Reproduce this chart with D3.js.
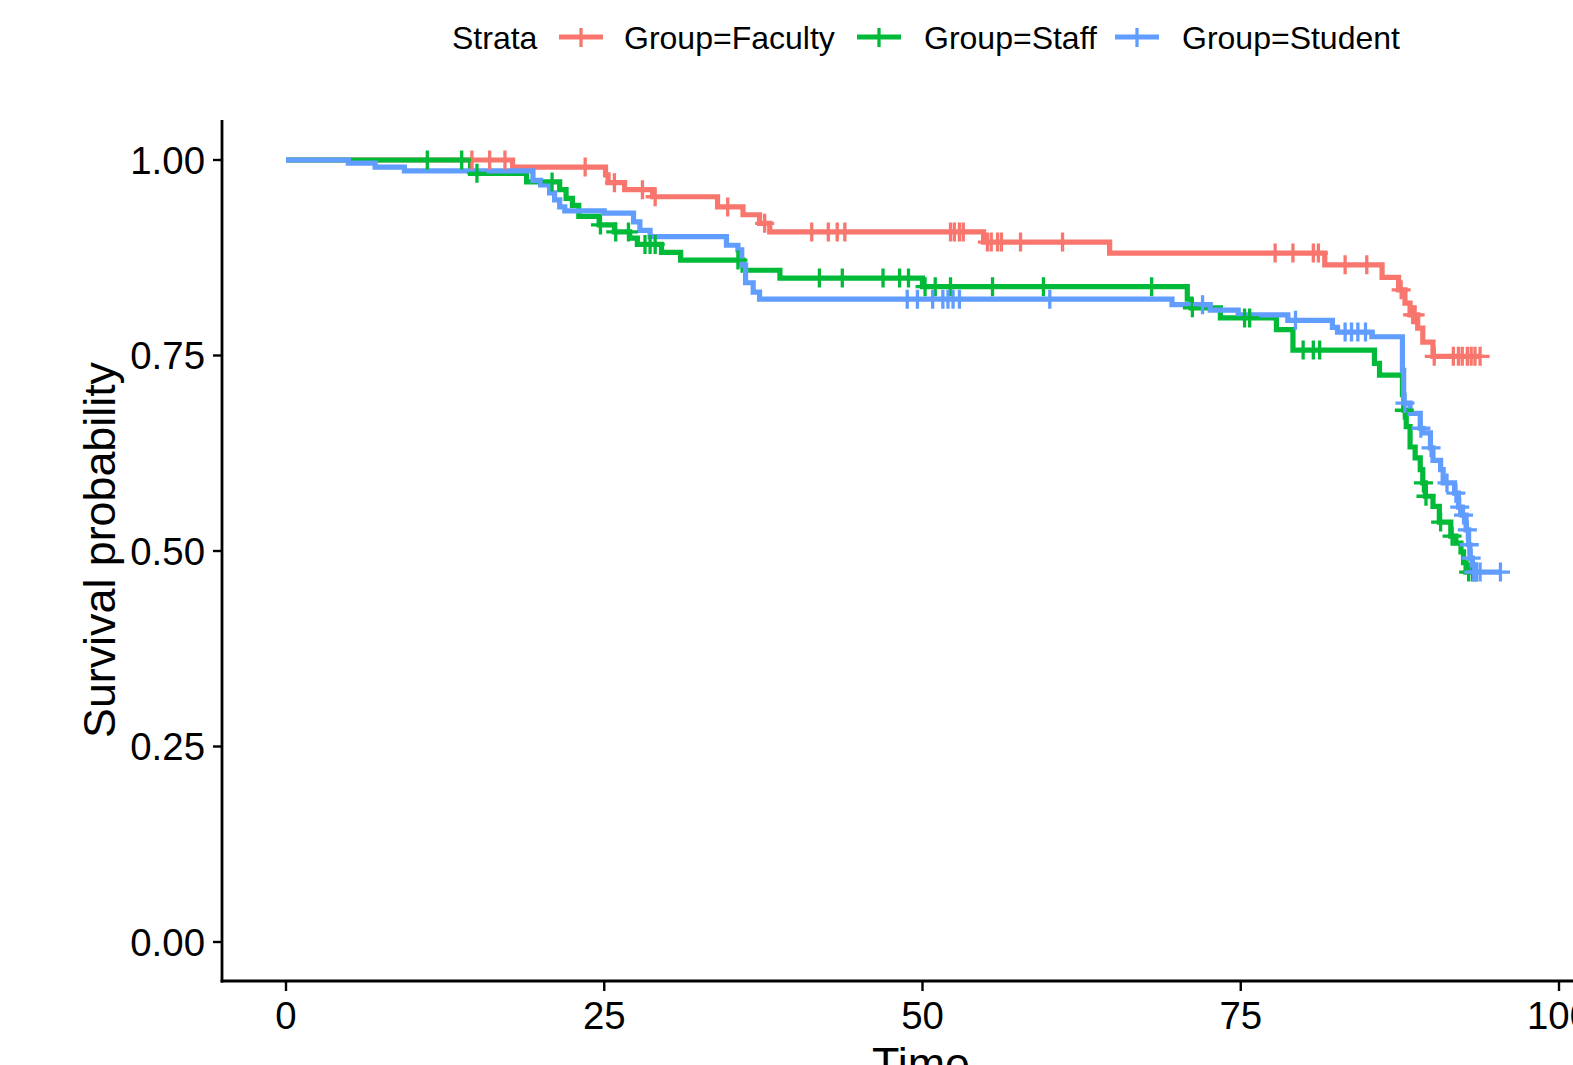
<!DOCTYPE html>
<html>
<head>
<meta charset="utf-8">
<script src="https://cdn.jsdelivr.net/npm/d3@7"></script>
<style>
  body { margin: 0; background: #fff; }
  text { font-family: "Liberation Sans", Arial, sans-serif; fill: #000; }
</style>
</head>
<body>
<div id="chart"></div>
<script>
var width = 1573;
var height = 1065;

var timeTicks = [0, 25, 50, 75, 100];
var survTicks = [0, 0.25, 0.5, 0.75, 1];
var groups = ["Group=Faculty", "Group=Staff", "Group=Student"];
var colors = ["#F8766D", "#00BA38", "#619CFF"];

// Kaplan-Meier steps: event time -> survival after it
var facultyTimes = [17.8, 25.1, 25.3, 26.6, 28.8, 33.9, 35.9, 37.2, 38.0, 54.8, 64.7, 81.6, 86.1, 87.4, 87.9, 88.3, 88.9, 89.3, 90.1];
var facultySurv = [0.991, 0.981, 0.971, 0.962, 0.953, 0.940, 0.930, 0.919, 0.908, 0.895, 0.881, 0.866, 0.850, 0.834, 0.817, 0.802, 0.785, 0.767, 0.749];
var facultyCensor = [14.6, 16.0, 17.2, 23.5, 25.8, 28.0, 29.0, 34.7, 37.6, 41.3, 42.6, 43.3, 43.9, 52.2, 52.5, 52.9, 53.2, 55.1, 55.4, 55.9, 56.2, 57.7, 61.0, 77.7, 79.1, 80.7, 81.1, 83.2, 84.9, 87.6, 88.5, 88.7, 90.2, 91.7, 92.1, 92.4, 92.8, 93.1, 93.4, 93.8];

var staffTimes = [14.5, 18.9, 21.5, 22.0, 22.5, 23.0, 24.6, 25.8, 27.0, 27.6, 29.5, 31.0, 35.9, 38.8, 50.0, 70.8, 71.1, 73.4, 77.8, 79.1, 85.5, 85.9, 87.7, 87.8, 88.0, 88.3, 88.7, 89.1, 89.3, 89.5, 90.1, 90.6, 91.5, 91.9, 92.3, 92.5, 92.7];
var staffSurv = [0.983, 0.972, 0.962, 0.951, 0.942, 0.928, 0.917, 0.908, 0.900, 0.892, 0.882, 0.872, 0.859, 0.849, 0.838, 0.822, 0.811, 0.798, 0.783, 0.757, 0.740, 0.725, 0.700, 0.680, 0.659, 0.633, 0.619, 0.604, 0.587, 0.570, 0.557, 0.537, 0.519, 0.510, 0.499, 0.485, 0.473];
var staffCensor = [11.1, 13.8, 15.0, 20.9, 24.7, 25.9, 26.9, 28.2, 28.6, 29.0, 35.5, 41.9, 43.7, 46.9, 48.2, 48.9, 50.2, 51.0, 52.2, 55.5, 59.5, 68.0, 71.2, 75.3, 75.7, 79.9, 80.7, 81.2, 87.85, 89.35, 89.55, 90.7, 91.6, 92.9, 93.2, 93.5];

var studentTimes = [4.9, 7.0, 9.3, 19.4, 20.0, 20.7, 21.1, 21.5, 21.9, 25.0, 27.3, 27.8, 28.6, 34.6, 35.5, 35.8, 36.1, 36.7, 37.2, 69.6, 72.6, 74.8, 78.7, 82.2, 82.6, 85.3, 87.7, 87.8, 88.3, 89.1, 89.3, 89.9, 90.1, 90.7, 90.9, 91.8, 92.1, 92.4, 92.7, 92.9, 93.0, 93.2];
var studentSurv = [0.996, 0.991, 0.986, 0.974, 0.968, 0.958, 0.949, 0.940, 0.935, 0.932, 0.921, 0.910, 0.902, 0.891, 0.885, 0.866, 0.843, 0.831, 0.822, 0.815, 0.808, 0.802, 0.795, 0.786, 0.780, 0.774, 0.731, 0.689, 0.676, 0.657, 0.651, 0.632, 0.616, 0.604, 0.587, 0.574, 0.556, 0.546, 0.527, 0.508, 0.491, 0.473];
var studentCensor = [48.8, 49.6, 50.8, 51.6, 52.0, 52.4, 52.9, 60.0, 72.0, 79.3, 83.2, 83.7, 84.2, 84.8, 87.9, 89.15, 89.95, 91.2, 91.9, 92.2, 92.5, 92.8, 92.95, 93.1, 93.3, 93.5, 93.8, 95.4];

var series = [
  {times: facultyTimes, surv: facultySurv, censor: facultyCensor},
  {times: staffTimes, surv: staffSurv, censor: staffCensor},
  {times: studentTimes, surv: studentSurv, censor: studentCensor}
];

var panelLeft = 222, panelTop = 120, panelBottom = 981;

var x = d3.scaleLinear().domain([0, 100]).range([286, 1559]);
var y = d3.scaleLinear().domain([0, 1]).range([942, 160]);

var svg = d3.select("#chart").append("svg").attr("width", width).attr("height", height);

function survAt(s, t) {
  var v = 1;
  for (var i = 0; i < s.times.length; i++) {
    if (s.times[i] <= t) v = s.surv[i];
  }
  return v;
}

function stepPoints(s) {
  var pts = [[0, 1]];
  for (var i = 0; i < s.times.length; i++) pts.push([s.times[i], s.surv[i]]);
  var end = Math.max(d3.max(s.times), d3.max(s.censor));
  pts.push([end, s.surv[s.surv.length - 1]]);
  return pts;
}

var line = d3.line()
  .x(function(d) { return x(d[0]); })
  .y(function(d) { return y(d[1]); })
  .curve(d3.curveStepAfter);

// curves first, then censor marks (like ggsurvplot)
series.forEach(function(s, i) {
  svg.append("path")
    .attr("d", line(stepPoints(s)))
    .attr("fill", "none")
    .attr("stroke", colors[i])
    .attr("stroke-width", 5.2);
});

function plus(cx, cy, r) {
  return "M" + (cx - r) + "," + cy + "H" + (cx + r) + "M" + cx + "," + (cy - r) + "V" + (cy + r);
}

series.forEach(function(s, i) {
  svg.append("g").selectAll("path")
    .data(s.censor)
    .enter()
    .append("path")
    .attr("d", function(t) { return plus(x(t), y(survAt(s, t)), 9.5); })
    .attr("stroke", colors[i])
    .attr("stroke-width", 3.3)
    .attr("fill", "none");
});

// axes
svg.append("line").attr("x1", panelLeft).attr("x2", panelLeft).attr("y1", panelTop).attr("y2", panelBottom + 1.4)
  .attr("stroke", "#000").attr("stroke-width", 2.8);
svg.append("line").attr("x1", panelLeft - 1.4).attr("x2", width).attr("y1", panelBottom).attr("y2", panelBottom)
  .attr("stroke", "#000").attr("stroke-width", 2.8);

var yAxis = svg.append("g");
yAxis.selectAll("line").data(survTicks).enter().append("line")
  .attr("x1", panelLeft - 9).attr("x2", panelLeft)
  .attr("y1", function(d) { return y(d); }).attr("y2", function(d) { return y(d); })
  .attr("stroke", "#000").attr("stroke-width", 2.4);
yAxis.selectAll("text").data(survTicks).enter().append("text")
  .attr("x", 205)
  .attr("y", function(d) { return y(d) + 13.7; })
  .attr("text-anchor", "end")
  .attr("font-size", 38.4)
  .text(function(d) { return d3.format(".2f")(d); });

var xAxis = svg.append("g");
xAxis.selectAll("line").data(timeTicks).enter().append("line")
  .attr("x1", function(d) { return x(d); }).attr("x2", function(d) { return x(d); })
  .attr("y1", panelBottom).attr("y2", panelBottom + 10)
  .attr("stroke", "#000").attr("stroke-width", 2.4);
xAxis.selectAll("text").data(timeTicks).enter().append("text")
  .attr("x", function(d) { return x(d); })
  .attr("y", 1029)
  .attr("text-anchor", "middle")
  .attr("font-size", 38.4)
  .text(function(d) { return d; });

svg.append("text")
  .attr("transform", "translate(115,550)rotate(-90)")
  .attr("text-anchor", "middle")
  .attr("font-size", 44.8)
  .text("Survival probability");

svg.append("text")
  .attr("x", 921).attr("y", 1079)
  .attr("text-anchor", "middle")
  .attr("font-size", 44.8)
  .text("Time");

// legend
var legend = svg.append("g");
legend.append("text").attr("x", 452).attr("y", 49).attr("font-size", 32).text("Strata");
var keyX = [559, 857, 1115];
var labelX = [624, 924, 1182];
groups.forEach(function(g, i) {
  legend.append("line").attr("x1", keyX[i]).attr("x2", keyX[i] + 44).attr("y1", 37).attr("y2", 37)
    .attr("stroke", colors[i]).attr("stroke-width", 5);
  legend.append("line").attr("x1", keyX[i] + 22).attr("x2", keyX[i] + 22).attr("y1", 28).attr("y2", 47)
    .attr("stroke", colors[i]).attr("stroke-width", 3.3);
  legend.append("text").attr("x", labelX[i]).attr("y", 49).attr("font-size", 32).text(g);
});
</script>
</body>
</html>
